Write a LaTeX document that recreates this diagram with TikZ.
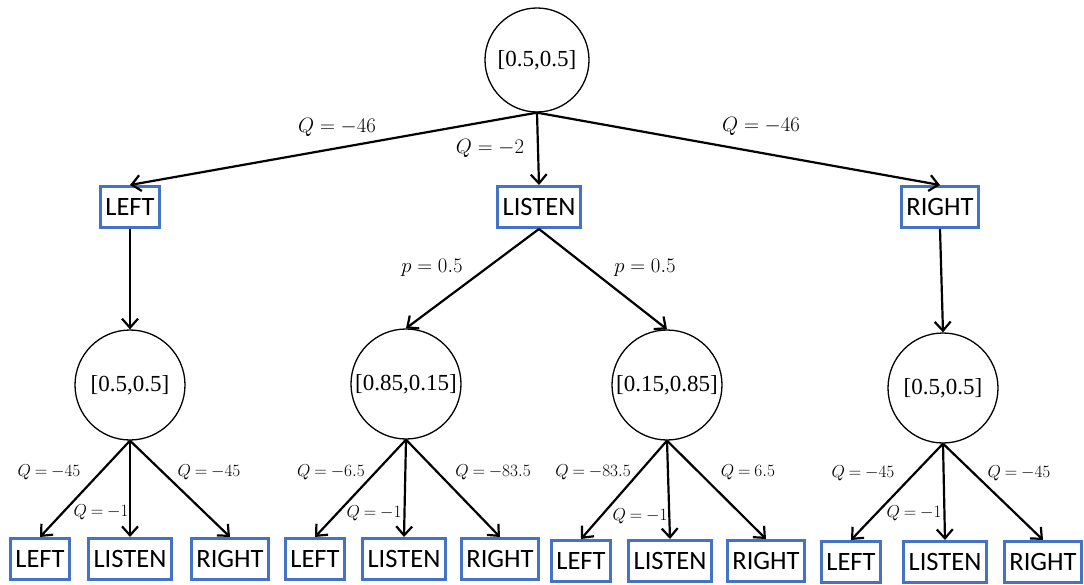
\documentclass[tikz,border=0pt]{standalone}
\usepackage{fontspec}
\newfontfamily\boxfont{Carlito}
\newfontfamily\beliefont{Liberation Serif}
\usetikzlibrary{arrows.meta}
\definecolor{actblue}{HTML}{4472C4}
% edge value with slightly tighter spacing around the relation
\newcommand\qval[1]{$\thickmuskip=4mu\relax #1$}
\begin{document}
\begin{tikzpicture}[x=1pt,y=-1pt,
  belief/.style={draw, line width=1.3pt, circle, minimum size=110pt, inner sep=0pt,
    font=\beliefont\fontsize{23}{27}\selectfont},
  action/.style={draw=actblue, line width=3pt, minimum height=41pt, inner xsep=5pt,
    inner ysep=0pt, fill=white, font=\boxfont\fontsize{26.5}{30}\selectfont},
  edge/.style={line width=2.2pt, -{Straight Barb[length=9pt,width=16pt,line width=2.2pt]}},
  qlab/.style={font=\fontsize{19}{21}\selectfont, inner sep=0pt},
  toplab/.style={font=\fontsize{20.5}{22}\selectfont, inner sep=0pt}]
\useasboundingbox (0,0) rectangle (1084,585);

% root belief
\node[belief, minimum size=104pt] (root) at (537,60) {[0.5,0.5]};

% first actions
\node[action] (aL) at (130,207) {LEFT};
\node[action] (aM) at (539,207) {LISTEN};
\node[action] (aR) at (940,207) {RIGHT};

% beliefs after the first action
\node[belief] (c1) at (130,385) {[0.5,0.5]};
\node[belief] (c2) at (406,384) {[0.85,0.15]};
\node[belief] (c3) at (667,385) {[0.15,0.85]};
\node[belief] (c4) at (943,388) {[0.5,0.5]};

% second actions
\node[action] (l1) at (40,559) {LEFT};
\node[action] (m1) at (130,559) {LISTEN};
\node[action] (r1) at (230,559) {RIGHT};
\node[action] (l2) at (315,559) {LEFT};
\node[action] (m2) at (404,559) {LISTEN};
\node[action] (r2) at (500,559) {RIGHT};
\node[action] (l3) at (581,561) {LEFT};
\node[action] (m3) at (670,561) {LISTEN};
\node[action] (r3) at (766,561) {RIGHT};
\node[action] (l4) at (851,562) {LEFT};
\node[action] (m4) at (945,562) {LISTEN};
\node[action] (r4) at (1043,562) {RIGHT};

% connectors
\draw[edge] (root.south) -- (aL.north);
\draw[edge] (root.south) -- (aM.north);
\draw[edge] (root.south) -- (aR.north);
\draw[edge] (aL.south) -- (c1.north);
\draw[edge] (aM.south) -- (c2.north);
\draw[edge] (aM.south) -- (c3.north);
\draw[edge] (aR.south) -- (c4.north);
\foreach \c/\i in {c1/1,c2/2,c3/3,c4/4}{
  \draw[edge] (\c.south) -- (l\i.north);
  \draw[edge] (\c.south) -- (m\i.north);
  \draw[edge] (\c.south) -- (r\i.north);
}

% edge values
\node[toplab] (qL) at (337,127) {$Q=-46$};
\node[toplab] (qM) at (490,148) {$Q=-2$};
\node[toplab] (qR) at (761,126) {$Q=-46$};
\node[toplab] (pL) at (432,268) {$p=0.5$};
\node[toplab] (pR) at (645,268) {$p=0.5$};

\node[qlab] (q1l) at (49,472) {\qval{Q=-45}};
\node[qlab] (q1m) at (101,512) {\qval{Q=-1}};
\node[qlab] (q1r) at (209,472) {\qval{Q=-45}};
\node[qlab] (q2l) at (331,472) {\qval{Q=-6.5}};
\node[qlab] (q2m) at (374,513) {\qval{Q=-1}};
\node[qlab] (q2r) at (493,472) {\qval{Q=-83.5}};
\node[qlab] (q3l) at (593,472) {\qval{Q=-83.5}};
\node[qlab] (q3m) at (640,516) {\qval{Q=-1}};
\node[qlab] (q3r) at (748,472) {\qval{Q=6.5}};
\node[qlab] (q4l) at (863,473) {\qval{Q=-45}};
\node[qlab] (q4m) at (914,513) {\qval{Q=-1}};
\node[qlab] (q4r) at (1019,473) {\qval{Q=-45}};
\end{tikzpicture}
\end{document}
